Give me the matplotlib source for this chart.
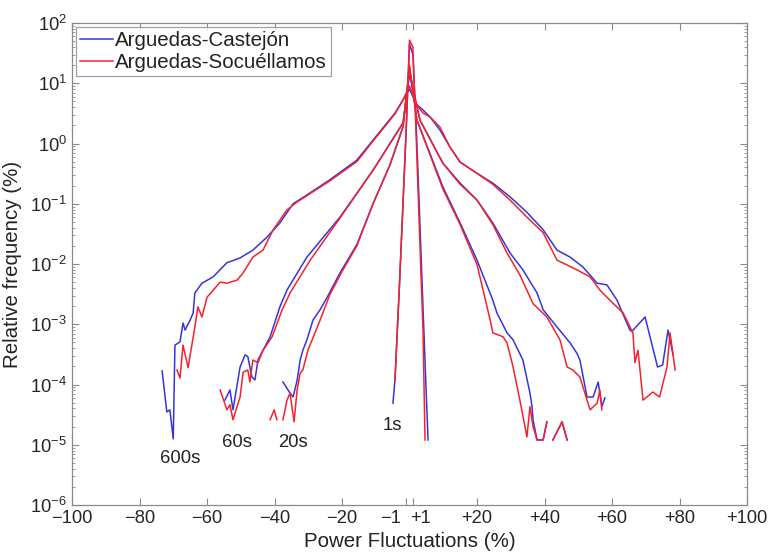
import numpy as np
import matplotlib
matplotlib.use("Agg")
import matplotlib.pyplot as plt
import matplotlib.transforms as mtransforms
from matplotlib.ticker import LogLocator, NullFormatter

plt.rcParams['font.family'] = ['Liberation Sans', 'DejaVu Sans']
plt.rcParams['mathtext.fontset'] = 'custom'
plt.rcParams['mathtext.rm'] = 'Liberation Sans'

nan = np.nan

# ---- data: Power Fluctuations (%) vs Relative frequency (%) ----
s600_blue_x = [-73.3, -71.9, -71.0, -70.0, -69.5, -68.0, -67.1, -66.5, -65.0, -64.1, -63.6, -61.5, -58.2,
               -54.1, -50.2, -46.4, -42.2, -38.4, -34.5, -30.4, -23.6, -15.6, -10.8, -4.3, -1.9, 0.0,
               2.0, 4.0, 6.1, 9.0, 12.0, 15.0, 20.0, 24.7, 29.8, 34.7, 39.6, 43.7, 47.6, 51.4, 55.6,
               58.5, 61.5, 65.3, 65.9, 69.8, 73.5, 75.0, 76.6, 78.1]
s600_blue_y = [1.68e-4, 3.5e-5, 3.8e-5, 1.25e-5, 4.5e-4, 5.1e-4, 1.05e-3, 8.0e-4, 1.17e-3, 1.54e-3, 3.3e-3,
               4.8e-3, 6.1e-3, 0.0105, 0.0126, 0.017, 0.028, 0.048, 0.10, 0.14, 0.25, 0.53, 1.14, 3.2,
               5.3, 8.0, 4.5, 3.6, 2.75, 1.68, 0.87, 0.49, 0.32, 0.22, 0.13, 0.073, 0.037, 0.017, 0.013,
               0.0089, 4.8e-3, 4.5e-3, 2.5e-3, 8.0e-4, 7.6e-4, 1.32e-3, 1.95e-4, 2.1e-4, 8.0e-4, 3.1e-4]

s600_red_x = [-68.9, -68.0, -67.1, -65.6, -63.6, -62.7, -61.5, -60.0, -56.1, -54.1, -51.1, -49.3, -46.4,
              -43.4, -40.4, -36.3, -33.3, -23.6, -15.6, -10.8, -4.3, -1.9, 0.0, 2.0, 4.0, 6.1, 9.0,
              12.0, 15.0, 20.0, 24.7, 29.8, 34.8, 39.6, 43.7, 49.6, 53.5, 56.4, 59.4, 63.3, 66.2,
              66.8, 67.7, 69.2, 72.1, 74.1, 76.3, 77.2, 78.7]
s600_red_y = [1.74e-4, 1.28e-4, 4.5e-4, 1.9e-4, 9.0e-4, 1.95e-3, 1.32e-3, 2.8e-3, 5.0e-3, 4.8e-3, 5.4e-3,
              7.1e-3, 0.013, 0.017, 0.037, 0.079, 0.107, 0.24, 0.50, 1.1, 3.1, 5.3, 9.0, 4.5, 3.2,
              2.75, 1.88, 0.87, 0.49, 0.32, 0.21, 0.115, 0.060, 0.033, 0.0116, 8.0e-3, 6.1e-3, 3.7e-3,
              2.5e-3, 1.54e-3, 7.2e-4, 2.3e-4, 3.7e-4, 5.5e-5, 7.5e-5, 6.2e-5, 1.95e-4, 7.2e-4, 1.74e-4]

s60_blue_x = [-54.7, -53.2, -52.3, -50.2, -48.7, -47.9, -46.7, -45.8, -44.9, -43.4, -41.3, -38.4, -36.3,
              -30.4, -20.6, -10.8, -1.9, 0.0, 3.1, 9.9, 15.0, 20.0, 24.7, 29.8, 33.6, 37.8, 39.6, 43.7,
              47.6, 49.6, 50.5, 52.6, 54.4, 55.9, 57.0, 57.9]
s60_blue_y = [5.5e-5, 8.1e-5, 3.8e-5, 1.95e-4, 3.1e-4, 2.9e-4, 1.33e-4, 1.19e-4, 2.55e-4, 3.7e-4, 6.2e-4,
              1.95e-3, 3.7e-3, 0.013, 0.060, 0.36, 2.2, 14.0, 2.45, 0.47, 0.22, 0.115, 0.048, 0.0152,
              8.0e-3, 3.3e-3, 1.74e-3, 9.0e-4, 4.9e-4, 3.3e-4, 2.55e-4, 6.2e-5, 6.2e-5, 1.1e-4, 4.3e-5,
              6.0e-5]

s60_red_x = [-56.1, -54.1, -53.2, -52.3, -50.2, -49.3, -47.9, -47.3, -46.4, -44.9, -43.4, -40.7, -37.8,
             -35.4, -29.5, -20.6, -10.8, -1.9, 0.0, 3.1, 9.9, 15.0, 20.0, 24.7, 28.9, 32.7, 36.6, 40.7,
             44.6, 46.7, 48.4, 50.5, 52.6, 53.5, 55.6, 56.4, 57.0]
s60_red_y = [8.1e-5, 3.8e-5, 4.6e-5, 2.6e-5, 6.2e-5, 1.6e-4, 1.74e-4, 1.1e-4, 2.55e-4, 2.3e-4, 3.7e-4,
             6.2e-4, 1.7e-3, 3.3e-3, 0.0114, 0.058, 0.36, 2.2, 16.0, 2.45, 0.47, 0.21, 0.115, 0.045,
             0.0152, 6.6e-3, 2.2e-3, 1.32e-3, 5.5e-4, 1.95e-4, 1.74e-4, 1.33e-4, 5.5e-5, 3.8e-5, 4.9e-5,
             8.1e-5, 3.8e-5]

s20_blue_x = [-37.5, -35.4, -34.5, -33.3, -32.4, -31.6, -30.4, -28.6, -26.5, -24.4, -20.6, -15.6, -10.8,
              -5.8, -1.9, 0.0, 2.2, 9.9, 15.0, 20.0, 24.7, 25.9, 28.9, 30.7, 33.6, 35.7, 36.3, 36.6,
              37.8, 39.6, 40.7, nan, 42.5, 45.2, 46.7]
s20_blue_y = [1.1e-4, 7.2e-5, 6.2e-5, 1.17e-4, 2.55e-4, 3.7e-4, 5.5e-4, 1.17e-3, 1.74e-3, 2.8e-3, 7.1e-3,
              0.021, 0.10, 0.44, 1.9, 18.0, 2.45, 0.19, 0.048, 0.0116, 2.5e-3, 1.54e-3, 7.2e-4, 5.5e-4,
              2.55e-4, 7.2e-5, 4.3e-5, 2.6e-5, 1.2e-5, 1.2e-5, 2.4e-5, nan, 1.2e-5, 2.4e-5, 1.2e-5]

s20_red_x = [-41.3, -40.1, -39.3, nan, -37.5, -36.3, -35.4, -34.2, -33.3, -32.4, -31.6, -30.1, -28.0,
             -26.5, -23.6, -20.0, -15.6, -10.8, -5.8, -1.9, 0.0, 2.2, 9.9, 15.0, 20.0, 21.8, 23.9,
             24.7, 27.7, 28.9, 30.7, 32.7, 34.8, 35.7, 36.6, 37.8, 39.6, 40.7, nan, 42.5, 45.2, 46.7]
s20_red_y = [2.6e-5, 3.8e-5, 2.6e-5, nan, 2.6e-5, 5.5e-5, 7.2e-5, 2.4e-5, 8.1e-5, 1.55e-4, 1.74e-4,
             3.7e-4, 7.2e-4, 1.17e-3, 3.1e-3, 7.5e-3, 0.020, 0.10, 0.44, 1.9, 20.0, 2.45, 0.175, 0.045,
             0.0098, 3.7e-3, 1.17e-3, 7.2e-4, 6.2e-4, 4.9e-4, 1.95e-4, 5.5e-5, 1.35e-5, 4.3e-5, 2.0e-5,
             1.2e-5, 1.2e-5, 2.4e-5, nan, 1.2e-5, 2.4e-5, 1.2e-5]

s1_blue_x = [-4.9, -4.3, -3.0, -2.0, -1.0, 0.0, 1.0, 2.0, 3.0, 4.0, 5.0, 5.5]
s1_blue_y = [4.9e-5, 1.2e-4, 4.2e-3, 0.081, 1.6, 45.0, 30.0, 1.9, 0.063, 1.9e-3, 6.2e-5, 1.2e-5]
s1_red_x = [-4.3, -3.0, -2.0, -1.0, 0.0, 1.0, 2.0, 3.0, 4.0, 4.6]
s1_red_y = [1.17e-4, 4.2e-3, 0.081, 1.6, 52.0, 40.0, 1.2, 0.03, 8.0e-4, 1.2e-5]

series_names = ['Arguedas-Castejón', 'Arguedas-Socuéllamos']
scale_labels = ['600s', '60s', '20s', '1s']
scale_label_x = [-68.0, -51.0, -34.5, -5.0]
scale_label_y = [6.0e-6, 1.07e-5, 1.07e-5, 2.1e-5]

xtick_vals = [-100, -80, -60, -40, -20, -1, 1, 20, 40, 60, 80, 100]
xtick_text = ['\u2212100', '\u221280', '\u221260', '\u221240', '\u221220', '\u22121', '+1',
              '+20', '+40', '+60', '+80', '+100']

blue = '#3535dc'
red = '#f5222e'

fig = plt.figure(figsize=(7.71, 5.57), dpi=100)
ax = fig.add_axes([72 / 771, 1 - 505 / 557, (747 - 72) / 771, (505 - 23) / 557])

blue_sets = [(s600_blue_x, s600_blue_y), (s60_blue_x, s60_blue_y), (s20_blue_x, s20_blue_y), (s1_blue_x, s1_blue_y)]
red_sets = [(s600_red_x, s600_red_y), (s60_red_x, s60_red_y), (s20_red_x, s20_red_y), (s1_red_x, s1_red_y)]

lw = 1.1
for i, (x, y) in enumerate(blue_sets):
    ax.plot(x, y, color=blue, lw=lw, label=series_names[0] if i == 0 else None)
for i, (x, y) in enumerate(red_sets):
    ax.plot(x, y, color=red, lw=lw, label=series_names[1] if i == 0 else None)

for t, lx, ly in zip(scale_labels, scale_label_x, scale_label_y):
    ax.text(lx, ly, t, fontsize=13.3, color='#222222', ha='center', va='center')

ax.set_yscale('log')
ax.set_xlim(-100, 100)
ax.set_ylim(1e-6, 1e2)
ax.yaxis.set_major_locator(LogLocator(base=10, numticks=20))
ax.yaxis.set_minor_locator(LogLocator(base=10, subs=np.arange(2, 10), numticks=20))
ax.yaxis.set_minor_formatter(NullFormatter())
ax.set_xticks(xtick_vals)
ax.set_xticklabels(xtick_text)

ax.tick_params(axis='both', which='both', direction='in', top=True, right=True,
               color='#8a8a8a', labelcolor='#262626')
ax.tick_params(axis='both', which='major', length=5, width=0.8, labelsize=13.2)
ax.tick_params(axis='y', which='minor', length=2.5, width=0.6)
for sp in ax.spines.values():
    sp.set_color('#8a8a8a')
    sp.set_linewidth(0.9)

for tk in ax.xaxis.get_major_ticks():
    loc = tk.get_loc()
    if loc == -1:
        tk.label1.set_horizontalalignment('right')
        tk.label1.set_transform(tk.label1.get_transform() +
                                mtransforms.ScaledTranslation(-5 / 100, 0, fig.dpi_scale_trans))
    elif loc == 1:
        tk.label1.set_horizontalalignment('left')
        tk.label1.set_transform(tk.label1.get_transform() +
                                mtransforms.ScaledTranslation(-3 / 100, 0, fig.dpi_scale_trans))

ax.set_xlabel('Power Fluctuations (%)', fontsize=14.8, color='#222222', labelpad=4)
ax.set_ylabel('Relative frequency (%)', fontsize=14.8, color='#222222', labelpad=6)

leg = ax.legend(loc='upper left', fontsize=14.8, frameon=True, fancybox=False,
                handlelength=1.6, handletextpad=0.1, borderpad=0.2, labelspacing=0.15,
                borderaxespad=0.2)
leg.get_frame().set_edgecolor('#8a8a8a')
leg.get_frame().set_linewidth(0.9)
for txt in leg.get_texts():
    txt.set_color('#222222')

fig.savefig('out.png', dpi=100, facecolor='white')
